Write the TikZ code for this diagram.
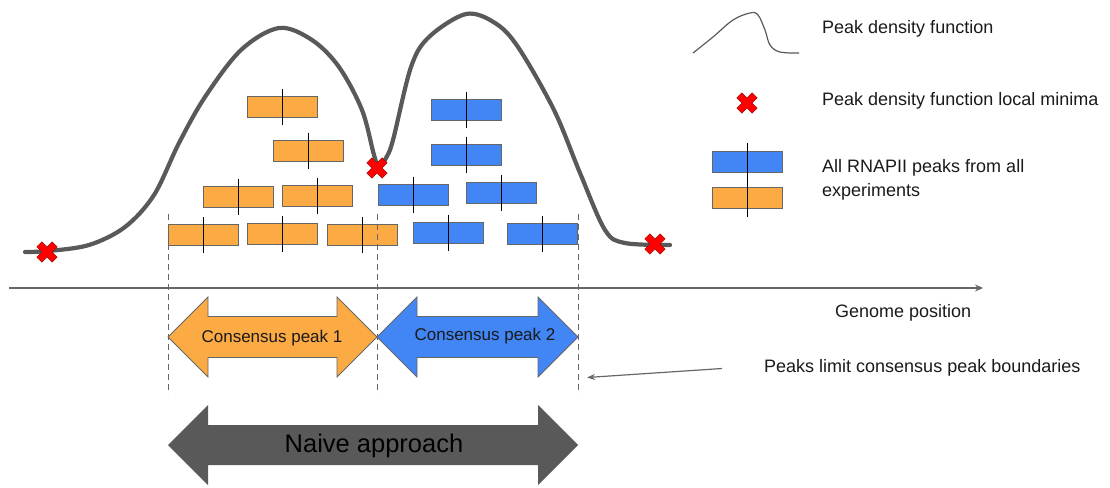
\documentclass[tikz,border=0pt]{standalone}
\usepackage{fontspec}
\setmainfont{Liberation Sans}
\usetikzlibrary{arrows.meta}
\definecolor{curvegray}{HTML}{595959}
\definecolor{porange}{HTML}{FBAA44}
\definecolor{pblue}{HTML}{4285F4}
\definecolor{boxedge}{HTML}{666666}
\definecolor{txtc}{HTML}{1A1A1A}
\definecolor{xred}{HTML}{FF0000}
\definecolor{xedge}{HTML}{A01010}
\newcommand\dblarrow[5]{%
  \filldraw[#1] (#2,#4) -- ({#2+40},{#4-40}) -- ({#2+40},{#4-#5}) -- ({#3-40},{#4-#5})
    -- ({#3-40},{#4-40}) -- (#3,#4) -- ({#3-40},{#4+40}) -- ({#3-40},{#4+#5})
    -- ({#2+40},{#4+#5}) -- ({#2+40},{#4+40}) -- cycle;}
\tikzset{
  peakbox/.style={draw=boxedge, line width=1pt, minimum width=70pt, minimum height=21pt, inner sep=0pt},
  obox/.style={peakbox, fill=porange},
  bbox/.style={peakbox, fill=pblue},
  pktick/.style={black, line width=1pt},
  densline/.style={curvegray, line width=4.2pt, line cap=round, line join=round},
  bound/.style={boxedge, dash pattern=on 6pt off 4pt, line width=0.9pt},
  lbl/.style={text=txtc, font=\fontsize{18}{24.5}\selectfont, inner sep=0pt},
  redx/.pic={\filldraw[fill=xred, draw=xedge, line width=0.5pt, rotate=45]
    (3.6,10.8) -- (3.6,3.6) -- (10.8,3.6) -- (10.8,-3.6) -- (3.6,-3.6) -- (3.6,-10.8) -- (-3.6,-10.8) -- (-3.6,-3.6)
    -- (-10.8,-3.6) -- (-10.8,3.6) -- (-3.6,3.6) -- (-3.6,10.8) -- cycle;}
}
\begin{document}
\begin{tikzpicture}[x=1pt,y=-1pt]
\useasboundingbox (0,0) rectangle (1110,487);
% density curve
\draw[densline] plot[smooth, tension=0.55] coordinates {
  (25,252) (48,251) (89,245) (125,227) (154,195) (179,143) (205,97) (241,50)
  (279,28) (312,40) (339,67) (362,110) (374,155) (379,167) (386,158) (393,140)
  (411,67) (429,37) (466,14) (495,23) (518,47) (554,110) (580,173) (605,230)
  (625,243) (670,245)};
% peak boxes
\node[obox] (o1) at (282,107) {};
\node[obox] (o2) at (308,150.5) {};
\node[obox] (o3) at (238,197) {};
\node[obox] (o4) at (317,195.5) {};
\node[obox] (o5) at (203,235) {};
\node[obox] (o6) at (282,233.5) {};
\node[obox] (o7) at (362,235) {};
\node[bbox] (b1) at (466,109.5) {};
\node[bbox] (b2) at (466,154.5) {};
\node[bbox] (b3) at (413,194.5) {};
\node[bbox] (b4) at (501,193) {};
\node[bbox] (b5) at (448,232.5) {};
\node[bbox] (b6) at (542,234) {};
\foreach \n in {o1,o2,o3,o4,o5,o6,o7,b1,b2,b3,b4,b5,b6}
  \draw[pktick] ([yshift=18pt]\n.center) -- ([yshift=-18pt]\n.center);
% axis
\coordinate (ax0) at (9,288);
\coordinate (ax1) at (983,288);
\draw[boxedge, line width=1.3pt, -{Stealth[length=8pt,width=7pt]}] (ax0) -- (ax1);
% consensus arrows
\dblarrow{fill=porange, draw=boxedge, line width=0.8pt}{168}{377}{337}{20.5}
\dblarrow{fill=pblue, draw=boxedge, line width=0.8pt}{377}{578}{337}{20.5}
\dblarrow{fill=curvegray, draw=none}{168}{578}{445}{20}
\node[text=txtc, font=\fontsize{17}{20}\selectfont, inner sep=0pt] (c1) at (272,338) {Consensus peak 1};
\node[text=txtc, font=\fontsize{17}{20}\selectfont, inner sep=0pt] (c2) at (485,336) {Consensus peak 2};
\node[text=black, font=\fontsize{25.5}{30}\selectfont, inner sep=0pt] (na) at (374,446) {Naive approach};
% boundaries
\foreach \x/\n in {168/d1,377/d2,578/d3}{
  \coordinate (\n t) at (\x,214);
  \coordinate (\n b) at (\x,394);
  \draw[bound] (\n t) -- (\n b);
}
% minima
\pic at (47,252) {redx};
\pic at (377,168) {redx};
\pic at (655,244) {redx};
% labels
\node[lbl, anchor=west] (gp) at (835,313) {Genome position};
\node[lbl, anchor=west] (pl) at (764,368) {Peaks limit consensus peak boundaries};
\coordinate (plstart) at (722,368.5);
\coordinate (plend) at (587,377.5);
\draw[boxedge, line width=1.2pt, -{Stealth[length=8pt,width=6pt]}] (plstart) -- (plend);
% legend
\draw[curvegray, line width=1.2pt] plot[smooth, tension=0.6] coordinates {
  (693,53) (713,37) (733,20) (750,13) (758,15) (765,30) (770,45) (780,52) (799,53)};
\node[lbl, anchor=west] (l1) at (822,29) {Peak density function};
\pic at (747,103) {redx};
\node[lbl, anchor=west] (l2) at (822,101) {Peak density function local minima};
\node[bbox] (lb) at (747,161.5) {};
\node[obox] (lo) at (747,198) {};
\draw[pktick] ([yshift=18.5pt]lb.center) -- ([yshift=-19pt]lo.center);
\node[lbl, anchor=west, align=left] (l3) at (822,180) {All RNAPII peaks from all\\experiments};
\end{tikzpicture}
\end{document}
